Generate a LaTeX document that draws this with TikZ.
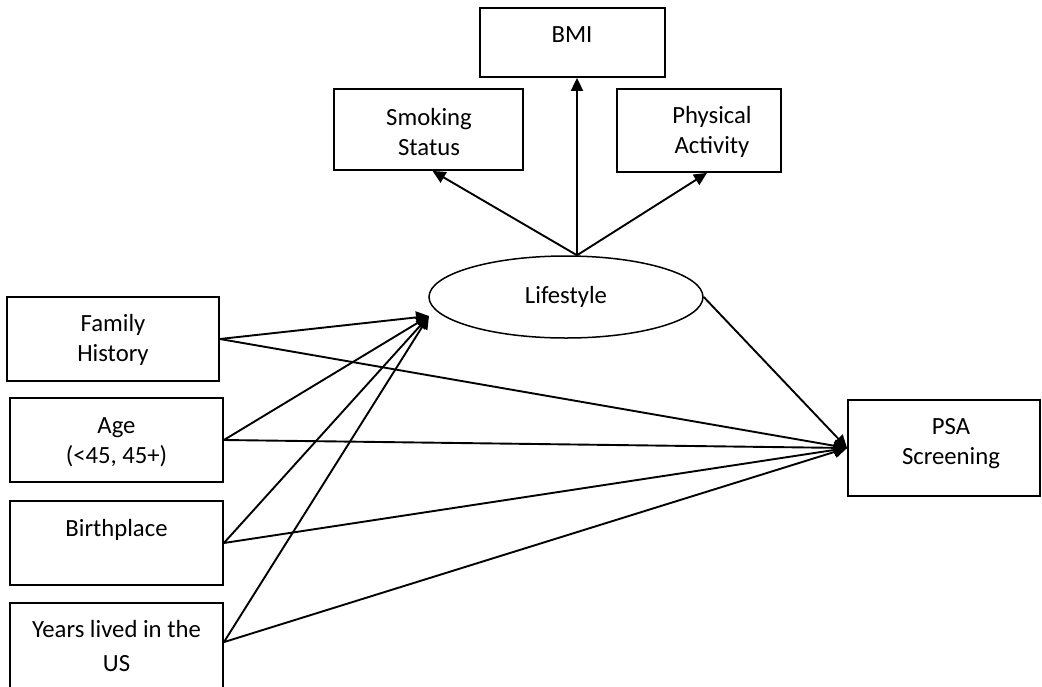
\documentclass[tikz,border=0pt]{standalone}
\usepackage{fontspec}
\setmainfont{Carlito}
\usetikzlibrary{arrows.meta,shapes.geometric,calc}

\tikzset{
  box/.style={draw, line width=1.8pt, inner sep=0pt},
  oval/.style={draw, ellipse, line width=1.5pt, inner sep=0pt},
  lbl/.style={anchor=north, inner sep=0pt, align=center,
    font=\fontsize{24.7}{30}\selectfont},
  link/.style={line width=1.9pt},
  arr/.style={link, -{Triangle[length=13pt,width=12pt]}}
}

\begin{document}
\begin{tikzpicture}[x=1pt,y=-1pt]
  \useasboundingbox (0,0) rectangle (1042,686);
  \clip (0,0) rectangle (1042,686);

  % frames
  \node[box, minimum width=185pt, minimum height=69pt] (bmi) at (572.5,42.5) {};
  \node[box, minimum width=189pt, minimum height=81pt] (smoke) at (428.5,129.5) {};
  \node[box, minimum width=164pt, minimum height=83pt] (phys) at (699,130.5) {};
  \node[oval, minimum width=274pt, minimum height=82pt] (life) at (566,297) {};
  \node[box, minimum width=212pt, minimum height=84pt] (fam) at (113,339) {};
  \node[box, minimum width=213pt, minimum height=84pt] (age) at (116.5,440) {};
  \node[box, minimum width=213pt, minimum height=84pt] (birth) at (116.5,543) {};
  \node[box, minimum width=213pt, minimum height=102pt] (yrs) at (116.5,654) {};
  \node[box, minimum width=192pt, minimum height=96pt] (psa) at (944,448) {};

  % texts
  \node[lbl] (tbmi) at (572,21) {\strut BMI};
  \node[lbl] (tsmoke) at (429,104) {\strut Smoking\\Status};
  \node[lbl] (tphys) at (712,102) {\strut Physical\\Activity};
  \node[lbl] (tlife) at (566,282) {\strut Lifestyle};
  \node[lbl] (tfam) at (113,310) {\strut Family\\History};
  \node[lbl] (tage) at (116.5,412) {\strut Age\\(<45, 45+)};
  \node[lbl] (tbirth) at (116.5,515) {\strut Birthplace};
  \node[lbl] (tyrs) at (116.5,616) {\strut Years lived in the\\[4pt]US};
  \node[lbl] (tpsa) at (951,413) {\strut PSA\\Screening};

  % connector end points
  \coordinate (ltop) at ($(life.north)+(11,0)$);
  \coordinate (lin) at (429,316);
  \coordinate (ysrc) at ($(yrs.north east)+(0,40)$);

  % lifestyle indicators
  \draw[arr] (ltop) -- (bmi.south -| ltop);
  \draw[arr] (ltop) -- ($(smoke.south)+(4,0)$);
  \draw[arr] (ltop) -- ($(phys.south)+(8,0)$);

  % predictors of lifestyle
  \draw[arr] (fam.east) -- (lin);
  \draw[arr] (age.east) -- (lin);
  \draw[arr] (birth.east) -- (lin);
  \draw[arr] (ysrc) -- (lin);

  % predictors of screening
  \draw[arr] (fam.east) -- (psa.west);
  \draw[arr] (age.east) -- (psa.west);
  \draw[arr] (birth.east) -- (psa.west);
  \draw[arr] (ysrc) -- (psa.west);
  \draw[arr] (life.east) -- (psa.west);
\end{tikzpicture}
\end{document}
